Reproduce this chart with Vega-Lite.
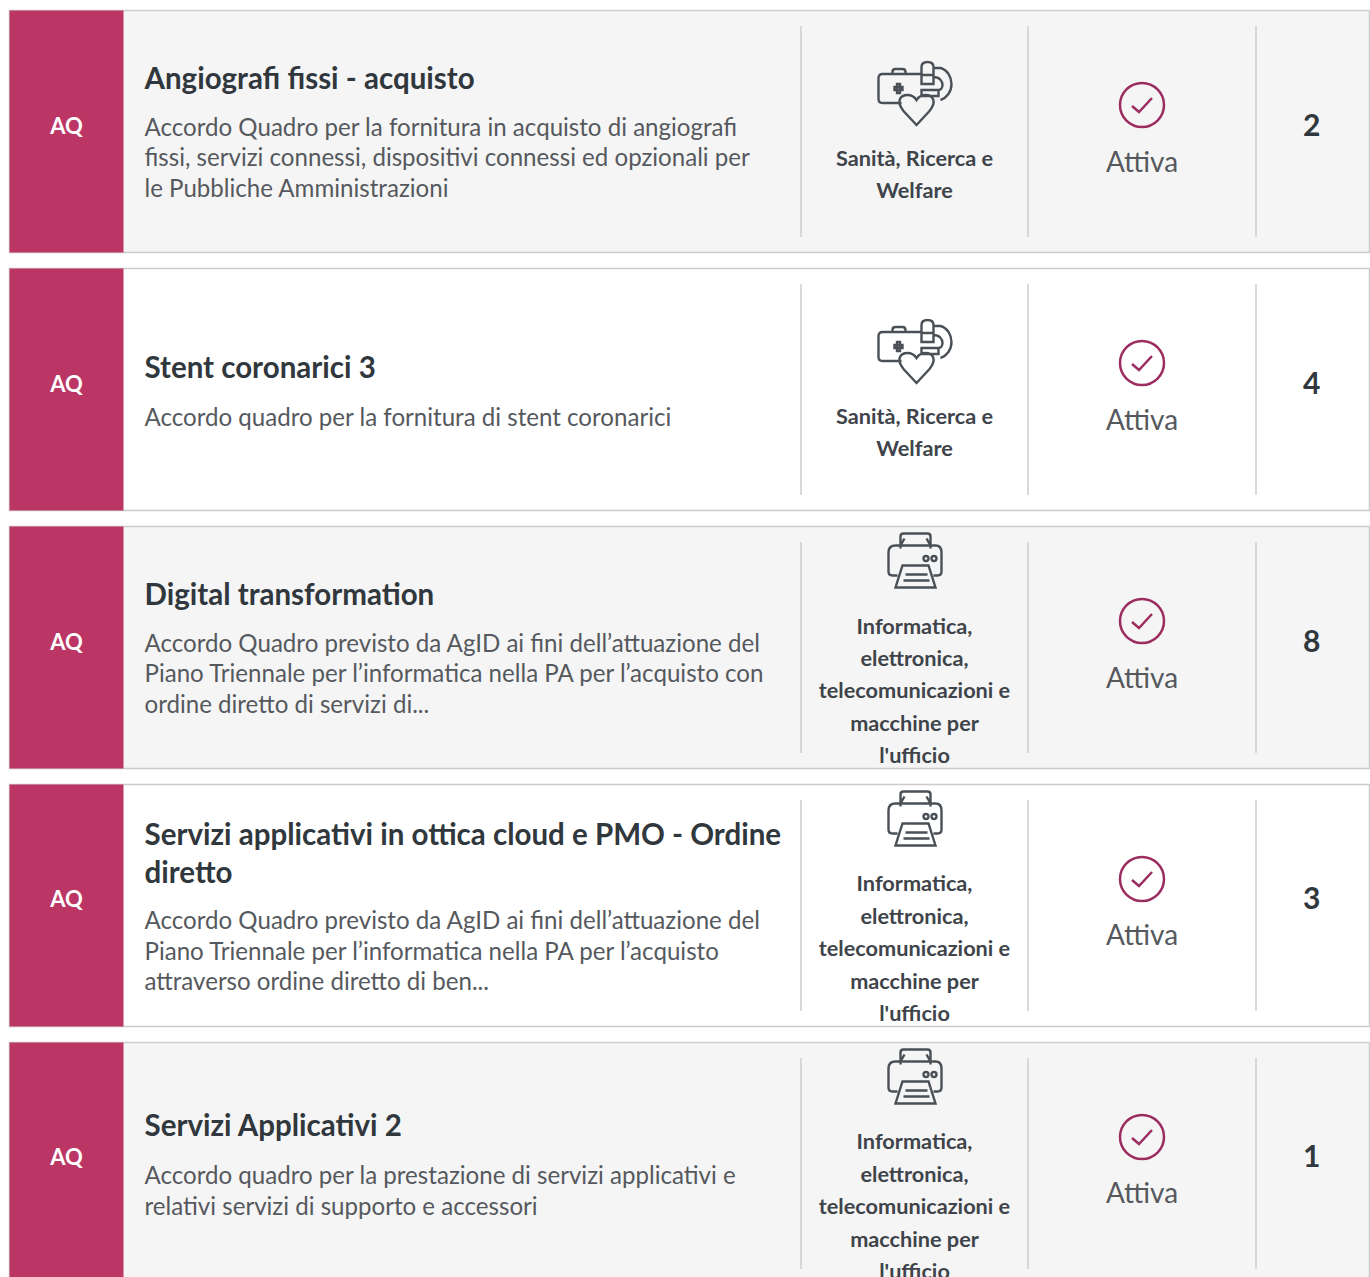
{
"$schema":"https://vega.github.io/schema/vega-lite/v6.json",
"width":1370,"height":1277,"padding":0,"autosize":{"type":"none"},"background":"#ffffff",
"config":{"view":{"stroke":null},"text":{"font":"Lato"}},
"data":{"values":[
{"card":1,"shade":"grey","type":"AQ","title":["Angiografi fissi - acquisto"],"desc":["Accordo Quadro per la fornitura in acquisto di angiografi","fissi, servizi connessi, dispositivi connessi ed opzionali per","le Pubbliche Amministrazioni"],"titleLines":1,"descLines":3,"category":["Sanità, Ricerca e","Welfare"],"area":"sanita","status":"Attiva","count":2},
{"card":2,"shade":"white","type":"AQ","title":["Stent coronarici 3"],"desc":["Accordo quadro per la fornitura di stent coronarici"],"titleLines":1,"descLines":1,"category":["Sanità, Ricerca e","Welfare"],"area":"sanita","status":"Attiva","count":4},
{"card":3,"shade":"grey","type":"AQ","title":["Digital transformation"],"desc":["Accordo Quadro previsto da AgID ai fini dell’attuazione del","Piano Triennale per l’informatica nella PA per l’acquisto con","ordine diretto di servizi di..."],"titleLines":1,"descLines":3,"category":["Informatica,","elettronica,","telecomunicazioni e","macchine per","l'ufficio"],"area":"informatica","status":"Attiva","count":8},
{"card":4,"shade":"white","type":"AQ","title":["Servizi applicativi in ottica cloud e PMO - Ordine","diretto"],"desc":["Accordo Quadro previsto da AgID ai fini dell’attuazione del","Piano Triennale per l’informatica nella PA per l’acquisto","attraverso ordine diretto di ben..."],"titleLines":2,"descLines":3,"category":["Informatica,","elettronica,","telecomunicazioni e","macchine per","l'ufficio"],"area":"informatica","status":"Attiva","count":3},
{"card":5,"shade":"grey","type":"AQ","title":["Servizi Applicativi 2"],"desc":["Accordo quadro per la prestazione di servizi applicativi e","relativi servizi di supporto e accessori"],"titleLines":1,"descLines":2,"category":["Informatica,","elettronica,","telecomunicazioni e","macchine per","l'ufficio"],"area":"informatica","status":"Attiva","count":1}
]},
"encoding":{"y":{"field":"card","type":"ordinal","axis":null,"scale":{"type":"band","domain":[1,2,3,4,5],"range":[10.5,1284.5],"paddingInner":0.062,"paddingOuter":0}}},
"layer":[
{"mark":{"type":"rect","stroke":"#cccccc","strokeWidth":1.5,"height":{"band":1},"clip":true},"encoding":{
 "x":{"datum":0,"type":"quantitative","axis":null,"scale":{"domain":[0,1,2,3,4,5],"range":[9.5,123.5,801,1028,1256,1369.5]}},
 "x2":{"datum":5},
 "fill":{"field":"shade","type":"nominal","legend":null,"scale":{"domain":["grey","white"],"range":["#f5f5f5","#ffffff"]}}}},
{"mark":{"type":"rect","fill":"#bb3665","height":{"band":1},"clip":true},"encoding":{"x":{"datum":0,"type":"quantitative"},"x2":{"datum":1}}},
{"mark":{"type":"tick","orient":"vertical","size":211,"thickness":1.5,"color":"#cccccc","opacity":1,"clip":true},"encoding":{"x":{"datum":2,"type":"quantitative"}}},
{"mark":{"type":"tick","orient":"vertical","size":211,"thickness":1.5,"color":"#cccccc","opacity":1,"clip":true},"encoding":{"x":{"datum":3,"type":"quantitative"}}},
{"mark":{"type":"tick","orient":"vertical","size":211,"thickness":1.5,"color":"#cccccc","opacity":1,"clip":true},"encoding":{"x":{"datum":4,"type":"quantitative"}}},
{"mark":{"type":"text","align":"center","baseline":"middle","font":"Lato","fontSize":22,"fontWeight":"bold","color":"#ffffff","yOffset":-5,"clip":true},"encoding":{"x":{"datum":0.5,"type":"quantitative"},"text":{"field":"type"}}},
{"mark":{"type":"text","align":"left","baseline":"middle","font":"Lato","fontSize":29.5,"fontWeight":"bold","color":"#30373d","lineHeight":38,"yOffset":{"expr":"({'2':-21,'3':-36,'4':-52,'5':-69})[''+(datum.titleLines+datum.descLines)]"},"clip":true},"encoding":{"x":{"datum":1.031,"type":"quantitative"},"text":{"field":"title"}}},
{"mark":{"type":"text","align":"left","baseline":"middle","font":"Lato","fontSize":24.1,"color":"#55595e","lineHeight":30.5,"yOffset":{"expr":"({'2':29,'3':14,'4':-3,'5':17})[''+(datum.titleLines+datum.descLines)]"},"clip":true},"encoding":{"x":{"datum":1.031,"type":"quantitative"},"text":{"field":"desc"}}},
{"mark":{"type":"text","align":"center","baseline":"middle","font":"Lato","fontSize":21.7,"fontWeight":"bold","color":"#3e444a","lineHeight":32.4,"yOffset":{"expr":"datum.area === 'sanita' ? 27 : -21"},"clip":true},"encoding":{"x":{"datum":2.5,"type":"quantitative"},"text":{"field":"category"}}},
{"mark":{"type":"text","align":"center","baseline":"middle","font":"Lato","fontSize":28,"color":"#55595e","yOffset":32,"clip":true},"encoding":{"x":{"datum":3.5,"type":"quantitative"},"text":{"field":"status"}}},
{"mark":{"type":"text","align":"center","baseline":"middle","font":"Lato","fontSize":30,"fontWeight":"bold","color":"#30373d","xOffset":-1,"yOffset":-5,"clip":true},"encoding":{"x":{"datum":4.5,"type":"quantitative"},"text":{"field":"count","type":"nominal"}}},
{"transform":[{"filter":"datum.area === 'sanita'"}],"mark":{"type":"point","filled":false,"size":4,"opacity":1,"stroke":"#4a5056","strokeWidth":2.4,"xOffset":1,"yOffset":-43.5,"shape":"M -14 15 H -33 Q -37 15 -37 11 V -10 Q -37 -14 -33 -14 H 6 M -23 -14 V -16 Q -23 -19 -20 -19 H -13 Q -10 -19 -10 -16 V -14 M -21 -1 H -13 V 2 H -21 Z M -18.5 -4 H -15.5 V 5 H -18.5 Z M 1 37 L -12 23 C -20 13 -15 7 -8 7 C -4 7 -1 9 1 12 C 3 9 6 7 10 7 C 17 7 22 13 14 23 Z M 6 -4 V -21 Q 6 -26 12 -26 Q 18 -26 18 -21 V -4 Z M 6 -13 H 18 M 18 -20 H 25 C 32 -18 36 -11 36 -4 C 36 4 31 10 25 12 M 18 -11 C 24 -11 27 -7 27 -3 C 27 0 25 2 23 2 M 6 2 H 23 V 8 H 6 Z"},"encoding":{"x":{"datum":2.5,"type":"quantitative"}}},
{"transform":[{"filter":"datum.area === 'informatica'"}],"mark":{"type":"point","filled":false,"size":4,"opacity":1,"stroke":"#4a5056","strokeWidth":2.4,"yOffset":-87,"shape":"M -14 -12 V -24 Q -14 -27 -11 -27 H 13 Q 16 -27 16 -24 V -12 M -17 15 H -22 Q -26 15 -26 11 V -8 Q -26 -15 -19 -15 H 21 Q 27 -15 27 -8 V 11 Q 27 15 23 15 H 19 M -14 -15 L -10 -22 M 16 -15 L 12 -22 M -12 5 H 14 L 21 27 H -19 Z M -9 14 H 13 M -11 20 H 15 M 9 -2 A 2.5 2.5 0 1 1 14 -2 A 2.5 2.5 0 1 1 9 -2 M 17 -2 A 2.5 2.5 0 1 1 22 -2 A 2.5 2.5 0 1 1 17 -2"},"encoding":{"x":{"datum":2.5,"type":"quantitative"}}},
{"mark":{"type":"point","filled":false,"size":4,"opacity":1,"stroke":"#9b2d60","strokeWidth":2.5,"yOffset":-26.5,"shape":"M -22 0 A 22 22 0 1 1 22 0 A 22 22 0 1 1 -22 0 M -10 1 L -3 7 L 10 -7"},"encoding":{"x":{"datum":3.5,"type":"quantitative"}}}
]
}
